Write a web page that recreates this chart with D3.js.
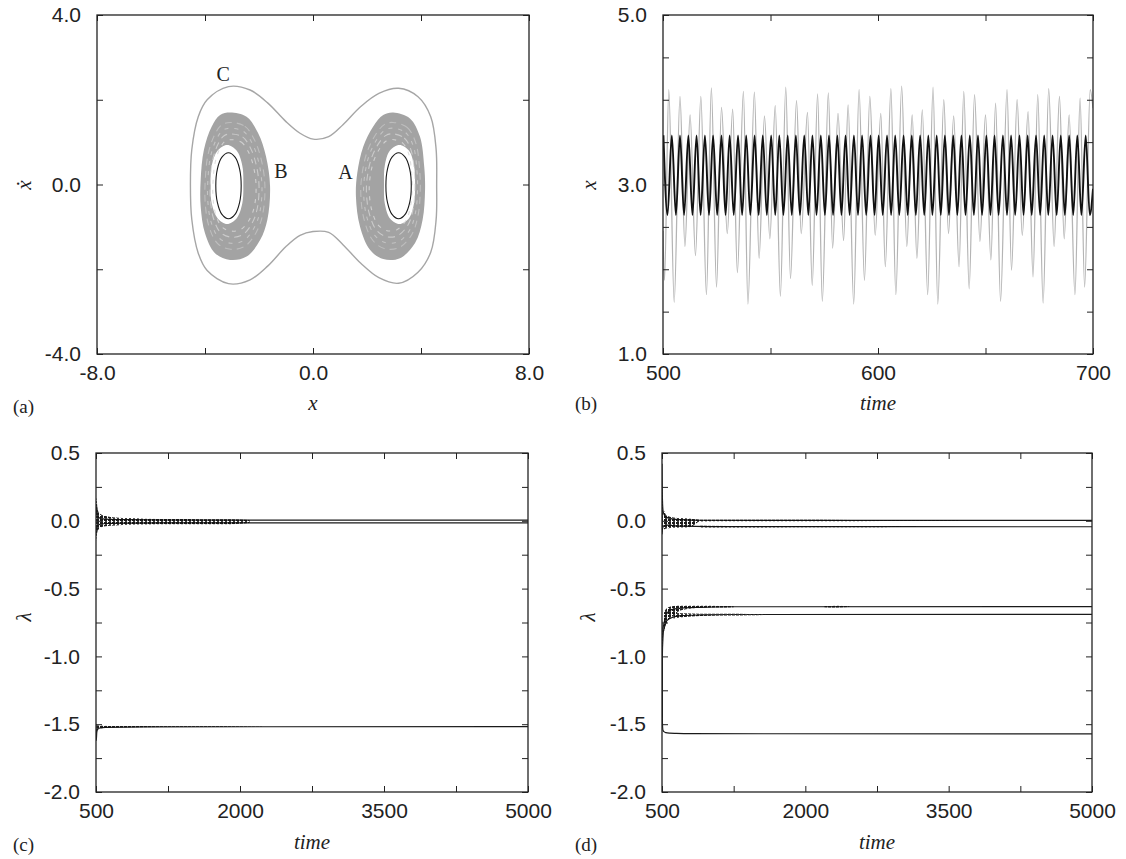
<!DOCTYPE html>
<html><head><meta charset="utf-8">
<script src="https://cdn.jsdelivr.net/npm/d3@7"></script>
<style>body{margin:0;background:#fff} svg{display:block}</style>
</head><body>
<svg id="chart" width="1126" height="859"></svg>
<script>
// ================= DATA =================
// ---- Panel (a): phase portrait (x, xdot) ----
const aXTicks = [-8, -4, 0, 4, 8];
const aXTickLabels = ["-8.0", "", "0.0", "", "8.0"];
const aYTicks = [-4, -2, 0, 2, 4];
const aYTickLabels = ["-4.0", "", "0.0", "", "4.0"];
// outer trajectory C
const curveC = [[-4.54,0],[-4.49,0.82],[-4.25,1.6],[-3.92,2.0],[-3.13,2.31],[-2.33,2.23],[-1.67,1.92],[-1.01,1.49],[-0.48,1.21],[0.01,1.07],[0.58,1.13],[1.11,1.41],[1.77,1.84],[2.44,2.15],[3.17,2.27],[3.89,2.07],[4.36,1.6],[4.56,0.83],[4.58,0],[4.56,-0.83],[4.36,-1.6],[3.89,-2.07],[3.17,-2.33],[2.44,-2.2],[1.77,-1.86],[1.11,-1.42],[0.58,-1.13],[0.0,-1.11],[-0.48,-1.2],[-1.01,-1.47],[-1.67,-1.92],[-2.33,-2.25],[-3.13,-2.34],[-3.92,-2.03],[-4.25,-1.62],[-4.49,-0.82]];
// band B (left well): outer and inner edges of the grey band
const bandBOuter = [[-3.07,1.70],[-2.46,1.60],[-2.03,1.21],[-1.74,0.66],[-1.59,-0.05],[-1.69,-0.83],[-1.96,-1.31],[-2.46,-1.70],[-3.07,-1.78],[-3.63,-1.62],[-4.0,-1.15],[-4.16,-0.52],[-4.16,0.11],[-4.04,0.82],[-3.75,1.37],[-3.44,1.64]];
const bandBInner = [[-3.18,0.93],[-2.83,0.8],[-2.62,0.45],[-2.58,0],[-2.62,-0.45],[-2.83,-0.8],[-3.18,-0.93],[-3.53,-0.8],[-3.75,-0.45],[-3.79,0],[-3.75,0.45],[-3.53,0.8]];
// band A (right well)
const bandAOuter = [[2.97,1.70],[3.59,1.56],[3.96,1.13],[4.12,0.42],[4.15,-0.13],[4.06,-0.83],[3.78,-1.38],[3.22,-1.74],[2.60,-1.76],[2.11,-1.54],[1.74,-0.99],[1.59,-0.29],[1.64,0.27],[1.86,0.89],[2.23,1.37],[2.60,1.64]];
const bandAInner = [[3.2,0.93],[3.55,0.8],[3.74,0.45],[3.78,0],[3.74,-0.45],[3.55,-0.8],[3.2,-0.93],[2.85,-0.8],[2.66,-0.45],[2.63,0],[2.66,0.45],[2.85,0.8]];
// small black periodic orbits
const orbitA = [[3.17,0.75],[3.42,0.64],[3.58,0.37],[3.64,-0.03],[3.58,-0.43],[3.42,-0.70],[3.17,-0.81],[2.92,-0.70],[2.76,-0.43],[2.70,-0.03],[2.76,0.37],[2.92,0.64]];
const orbitB = [[-3.13,0.75],[-2.88,0.64],[-2.72,0.37],[-2.66,-0.03],[-2.72,-0.43],[-2.88,-0.70],[-3.13,-0.81],[-3.38,-0.70],[-3.54,-0.43],[-3.60,-0.03],[-3.54,0.37],[-3.38,0.64]];
const aLabels = ["C", "B", "A"];
const aLabelX = [-3.33, -1.19, 1.2];
const aLabelY = [2.61, 0.33, 0.29];

// ---- Panel (b): time series ----
const bXTicks = [500, 550, 600, 650, 700];
const bXTickLabels = ["500", "", "600", "", "700"];
const bYTicks = [1, 1.5, 2, 2.5, 3, 3.5, 4, 4.5, 5];
const bYTickLabels = ["1.0", "", "", "", "3.0", "", "", "", "5.0"];
const bBlackPeakT = [500.2,504.1,507.9,511.8,515.6,519.5,523.3,527.2,531.0,534.9,538.7,542.6,546.4,550.3,554.1,558.0,561.8,565.7,569.5,573.4,577.2,581.1,584.9,588.8,592.6,596.5,600.3,604.2,608.0,611.9,615.7,619.6,623.4,627.3,631.1,635.0,638.8,642.7,646.5,650.4,654.2,658.1,661.9,665.8,669.6,673.5,677.3,681.2,685.0,688.9,692.7,696.6];
const bBlackTroughT = [502.1,506.0,509.8,513.7,517.5,521.4,525.2,529.1,532.9,536.8,540.6,544.5,548.3,552.2,556.0,559.9,563.7,567.6,571.4,575.3,579.1,583.0,586.8,590.7,594.5,598.4,602.2,606.1,609.9,613.8,617.6,621.5,625.3,629.2,633.0,636.9,640.7,644.6,648.4,652.3,656.1,660.0,663.8,667.7,671.5,675.4,679.2,683.1,686.9,690.8,694.6,698.5];
const bBlackPeak = 3.58, bBlackTrough = 2.64, bBlackEnd = [700.0, 2.95];
const bGrayT = [500.0,500.7,502.7,505.2,507.9,510.2,512.6,515.1,517.6,520.2,522.5,524.9,527.2,529.9,532.4,534.6,537.4,539.5,542.5,544.7,547.2,549.7,552.2,554.6,557.1,559.3,562.1,564.3,567.2,569.4,571.9,574.1,576.9,578.9,581.4,584.0,586.1,588.7,591.2,593.7,596.2,598.7,601.3,603.4,606.0,608.3,611.0,613.4,615.9,618.1,620.6,623.1,625.6,627.8,630.6,632.8,635.2,637.7,639.9,642.4,644.9,647.4,650.0,652.5,654.7,657.0,660.0,662.1,664.7,667.1,669.8,672.1,674.3,676.8,679.4,681.9,684.4,686.6,688.9,691.6,694.0,696.1,698.7,700.0];
const bGrayX = [2.45,1.87,4.12,1.61,4.04,2.27,3.82,2.16,4.04,1.70,4.14,1.79,3.91,2.42,3.89,1.96,4.10,1.59,4.09,2.13,3.81,2.36,3.93,1.68,4.15,1.89,3.99,2.42,3.85,1.81,4.07,1.62,4.08,2.25,3.84,2.34,3.94,1.59,4.12,1.87,4.04,2.40,3.84,2.03,4.13,1.70,4.16,2.27,3.82,2.13,3.88,1.70,4.15,1.59,4.00,2.42,3.81,2.03,4.10,1.77,4.06,2.33,3.82,2.11,3.96,1.62,4.12,1.99,4.00,2.40,3.86,1.91,4.06,1.60,4.13,2.27,4.04,2.36,3.82,1.70,4.02,1.79,4.12,3.90];

// ---- Panels (c), (d): Lyapunov exponents ----
const lamXTicks = [500, 1250, 2000, 2750, 3500, 4250, 5000];
const lamXTickLabels = ["500", "", "2000", "", "3500", "", "5000"];
const lamYTicks = [-2, -1.75, -1.5, -1.25, -1, -0.75, -0.5, -0.25, 0, 0.25, 0.5];
const lamYTickLabels = ["-2.0", "", "-1.5", "", "-1.0", "", "-0.5", "", "0.0", "", "0.5"];
// (c) exponents
const cL1T = [500, 502, 505, 510, 520, 540, 600, 800, 1200, 5000];
const cL1 = [0.05, 0.12, 0.06, 0.04, 0.03, 0.02, 0.012, 0.008, 0.006, 0.005];
const cL2T = [500, 505, 520, 600, 800, 1200, 5000];
const cL2 = [-0.10, -0.05, -0.03, -0.02, -0.017, -0.015, -0.015];
const cL3T = [500, 503, 508, 515, 530, 600, 1000, 5000];
const cL3 = [-1.50, -1.62, -1.56, -1.54, -1.53, -1.523, -1.519, -1.518];
// (c) fluctuation envelopes
const cN1T = [500, 505, 515, 530, 560, 600, 700, 850, 1000, 1300, 1600, 1900, 2100];
const cN1Hi = [0.10, 0.17, 0.10, 0.06, 0.045, 0.035, 0.025, 0.02, 0.016, 0.013, 0.012, 0.012, 0.006];
const cN1Lo = [-0.15, -0.12, -0.08, -0.06, -0.045, -0.04, -0.035, -0.03, -0.028, -0.026, -0.025, -0.025, -0.016];
const cN2T = [505, 560, 700, 1200, 1800, 2230];
const cN2Hi = [-1.505, -1.512, -1.514, -1.515, -1.516, -1.517];
const cN2Lo = [-1.545, -1.53, -1.524, -1.521, -1.52, -1.519];
// (d) exponents
const dL1T = [500, 502, 505, 510, 520, 540, 570, 620, 700, 900, 5000];
const dL1 = [0.42, 0.25, 0.15, 0.08, 0.05, 0.03, 0.02, 0.012, 0.008, 0.004, 0.003];
const dL2T = [500, 505, 520, 560, 620, 700, 1000, 5000];
const dL2 = [-0.10, -0.06, -0.035, -0.032, -0.036, -0.040, -0.043, -0.044];
const dL3T = [500, 503, 507, 512, 520, 540, 560, 600, 700, 900, 1200, 5000];
const dL3 = [-1.45, -1.0, -0.85, -0.79, -0.76, -0.70, -0.675, -0.655, -0.645, -0.638, -0.634, -0.633];
const dL4T = [500, 503, 507, 512, 520, 540, 560, 600, 700, 900, 1200, 5000];
const dL4 = [-1.45, -1.05, -0.90, -0.83, -0.80, -0.75, -0.73, -0.715, -0.70, -0.694, -0.691, -0.690];
const dL5T = [500, 502, 505, 510, 520, 540, 580, 650, 800, 5000];
const dL5 = [-0.9, -1.3, -1.5, -1.545, -1.555, -1.562, -1.566, -1.568, -1.57, -1.572];
// (d) fluctuation envelopes
const dN1T = [500, 510, 530, 560, 620, 700, 800, 900, 1200, 1800, 2500, 3100, 3600];
const dN1Hi = [0.30, 0.12, 0.06, 0.035, 0.025, 0.02, 0.015, 0.008, 0.007, 0.007, 0.006, 0.005, 0.004];
const dN1Lo = [-0.09, -0.07, -0.06, -0.055, -0.052, -0.05, -0.045, -0.006, -0.004, -0.004, -0.003, -0.002, -0.001];
const dN2T = [900, 1500, 2200, 2800, 3000];
const dN2Hi = [-0.036, -0.038, -0.039, -0.040, -0.041];
const dN2Lo = [-0.050, -0.049, -0.048, -0.047, -0.046];
const dN3T = [503, 520, 560, 620, 700, 900, 1100, 1250];
const dN3Hi = [-0.80, -0.68, -0.64, -0.628, -0.626, -0.627, -0.628, -0.630];
const dN3Lo = [-1.0, -0.82, -0.74, -0.70, -0.66, -0.642, -0.640, -0.637];
const dN4T = [620, 800, 1000, 1200, 1400, 1580];
const dN4Hi = [-0.680, -0.683, -0.685, -0.686, -0.687, -0.688];
const dN4Lo = [-0.720, -0.705, -0.700, -0.698, -0.696, -0.694];
const dN5T = [2200, 2330, 2460];
const dN5Hi = [-0.629, -0.626, -0.630];
const dN5Lo = [-0.637, -0.640, -0.636];

// ================= DRAWING =================
const svg = d3.select("#chart");
const INK = "#222";
const SANS = "'Liberation Sans', Arial, Helvetica, sans-serif";
const SERIF = "'Liberation Serif', 'Times New Roman', 'DejaVu Serif', serif";

// speckle texture for the fluctuating parts of the exponent curves
const defs = svg.append("defs");
const pat = defs.append("pattern").attr("id", "speck").attr("patternUnits", "userSpaceOnUse")
  .attr("width", 4).attr("height", 3);
pat.append("rect").attr("x", 0).attr("y", 0).attr("width", 3).attr("height", 2).attr("fill", "#111");
pat.append("rect").attr("x", 1).attr("y", 2).attr("width", 2).attr("height", 1).attr("fill", "#333");

function panel(id, box, xDom, yDom, xT, xL, yT, yL) {
  const x = d3.scaleLinear().domain(xDom).range([box.x0, box.x1]);
  const y = d3.scaleLinear().domain(yDom).range([box.y1, box.y0]);
  const g = svg.append("g");
  defs.append("clipPath").attr("id", "clip" + id).append("rect")
    .attr("x", box.x0).attr("y", box.y0).attr("width", box.x1 - box.x0).attr("height", box.y1 - box.y0);
  const plot = g.append("g").attr("clip-path", `url(#clip${id})`);
  const style = sel => {
    sel.select(".domain").remove();
    sel.selectAll(".tick line").attr("stroke", INK).attr("stroke-width", 1);
    sel.attr("font-family", SANS).attr("font-size", 21);
    sel.selectAll(".tick text").attr("fill", INK);
  };
  g.append("g").attr("transform", `translate(0,${box.y1})`)
    .call(d3.axisBottom(x).tickValues(xT).tickSize(-6).tickPadding(11).tickFormat((d, i) => xL[i])).call(style);
  g.append("g").attr("transform", `translate(0,${box.y0})`)
    .call(d3.axisTop(x).tickValues(xT).tickSize(-6).tickFormat("")).call(style);
  g.append("g").attr("transform", `translate(${box.x0},0)`)
    .call(d3.axisLeft(y).tickValues(yT).tickSize(-6).tickPadding(16).tickFormat((d, i) => yL[i])).call(style);
  g.append("g").attr("transform", `translate(${box.x1},0)`)
    .call(d3.axisRight(y).tickValues(yT).tickSize(-6).tickFormat("")).call(style);
  g.append("rect").attr("x", box.x0).attr("y", box.y0)
    .attr("width", box.x1 - box.x0).attr("height", box.y1 - box.y0)
    .attr("fill", "none").attr("stroke", INK).attr("stroke-width", 1.3);
  return {x, y, g, plot};
}

function titles(letter, lx, ly, xTitle, xcx, xcy, yTitle, ycx, ycy) {
  svg.append("text").attr("x", lx).attr("y", ly).attr("font-family", SERIF).attr("font-size", 19)
    .attr("fill", INK).text(letter);
  svg.append("text").attr("x", xcx).attr("y", xcy).attr("text-anchor", "middle")
    .attr("font-family", SERIF).attr("font-style", "italic").attr("font-size", 21).attr("fill", INK).text(xTitle);
  svg.append("text").attr("transform", `translate(${ycx},${ycy}) rotate(-90)`).attr("text-anchor", "middle")
    .attr("dominant-baseline", "central")
    .attr("font-family", SERIF).attr("font-style", "italic").attr("font-size", 21).attr("fill", INK).text(yTitle);
}

// ---------- (a) ----------
const A = panel("a", {x0: 97, x1: 529, y0: 15, y1: 354}, [-8, 8], [-4, 4], aXTicks, aXTickLabels, aYTicks, aYTickLabels);
const closed = d3.line().x(d => A.x(d[0])).y(d => A.y(d[1])).curve(d3.curveCatmullRomClosed.alpha(0.5));
[[bandBOuter, bandBInner], [bandAOuter, bandAInner]].forEach(([o, i]) => {
  A.plot.append("path").attr("d", closed(o) + closed(i)).attr("fill", "#a3a3a3").attr("fill-rule", "evenodd");
  // light streak texture of the quasi-periodic band
  const cx = A.x(d3.mean(o, d => d[0])), cy = A.y(d3.mean(o, d => d[1]));
  [0.62, 0.7, 0.78, 0.86].forEach((k, j) => {
    A.plot.append("path").attr("d", closed(o)).attr("fill", "none")
      .attr("transform", `translate(${cx},${cy}) scale(${k}) translate(${-cx},${-cy})`)
      .attr("vector-effect", "non-scaling-stroke")
      .attr("stroke", "#d9d9d9").attr("stroke-width", 1.1)
      .attr("stroke-dasharray", j % 2 ? "7 5" : "4 6").attr("opacity", 0.85 - j * 0.12);
  });
});
A.plot.append("path").attr("d", closed(curveC)).attr("fill", "none").attr("stroke", "#a6a6a6").attr("stroke-width", 1.4);
[orbitA, orbitB].forEach(o => A.plot.append("path").attr("d", closed(o)).attr("fill", "none").attr("stroke", "#1a1a1a").attr("stroke-width", 1.1));
A.g.selectAll(".lbl").data(aLabels).join("text").attr("class", "lbl")
  .attr("x", (d, i) => A.x(aLabelX[i])).attr("y", (d, i) => A.y(aLabelY[i]))
  .attr("text-anchor", "middle").attr("dominant-baseline", "central")
  .attr("font-family", SERIF).attr("font-size", 20).attr("fill", INK).text(d => d);
titles("(a)", 13, 413, "x", 313, 410, "\u1E8B", 24, 185);

// ---------- (b) ----------
const B = panel("b", {x0: 663, x1: 1093, y0: 15, y1: 354}, [500, 700], [1, 5], bXTicks, bXTickLabels, bYTicks, bYTickLabels);
const gray = bGrayT.map((t, i) => [t, bGrayX[i]]);
const black = [];
bBlackPeakT.forEach((t, i) => { black.push([t, bBlackPeak]); black.push([bBlackTroughT[i], bBlackTrough]); });
black.push(bBlackEnd);
const lineB = d3.line().x(d => B.x(d[0])).y(d => B.y(d[1])).curve(d3.curveMonotoneX);
B.plot.append("path").attr("d", lineB(gray)).attr("fill", "none").attr("stroke", "#b4b4b4").attr("stroke-width", 1.3);
B.plot.append("path").attr("d", lineB(black)).attr("fill", "none").attr("stroke", "#111").attr("stroke-width", 1.9);
titles("(b)", 575, 410, "time", 878, 410, "x", 589, 185);

// ---------- (c), (d) ----------
function lamPanel(id, box, lines, noises) {
  const P = panel(id, box, [500, 5000], [-2, 0.5], lamXTicks, lamXTickLabels, lamYTicks, lamYTickLabels);
  const area = d3.area().x(d => P.x(d[0])).y0(d => P.y(d[1])).y1(d => P.y(d[2])).curve(d3.curveMonotoneX);
  const ln = d3.line().x(d => P.x(d[0])).y(d => P.y(d[1])).curve(d3.curveMonotoneX);
  lines.forEach(([T, V]) => {
    P.plot.append("path").attr("d", ln(T.map((t, i) => [t, V[i]])))
      .attr("fill", "none").attr("stroke", "#1a1a1a").attr("stroke-width", 1.2);
  });
  noises.forEach(([T, lo, hi]) => {
    P.plot.append("path").attr("d", area(T.map((t, i) => [t, lo[i], hi[i]])))
      .attr("fill", "url(#speck)").attr("opacity", 0.95);
  });
  return P;
}
lamPanel("c", {x0: 96, x1: 528, y0: 453, y1: 792},
  [[cL1T, cL1], [cL2T, cL2], [cL3T, cL3]],
  [[cN1T, cN1Lo, cN1Hi], [cN2T, cN2Lo, cN2Hi]]);
titles("(c)", 13, 851, "time", 312, 849, "\u03BB", 24, 617);
lamPanel("d", {x0: 662, x1: 1092, y0: 453, y1: 792},
  [[dL1T, dL1], [dL2T, dL2], [dL3T, dL3], [dL4T, dL4], [dL5T, dL5]],
  [[dN1T, dN1Lo, dN1Hi], [dN2T, dN2Lo, dN2Hi], [dN3T, dN3Lo, dN3Hi], [dN4T, dN4Lo, dN4Hi], [dN5T, dN5Lo, dN5Hi]]);
titles("(d)", 575, 851, "time", 877, 849, "\u03BB", 588, 617);
</script>
</body></html>
